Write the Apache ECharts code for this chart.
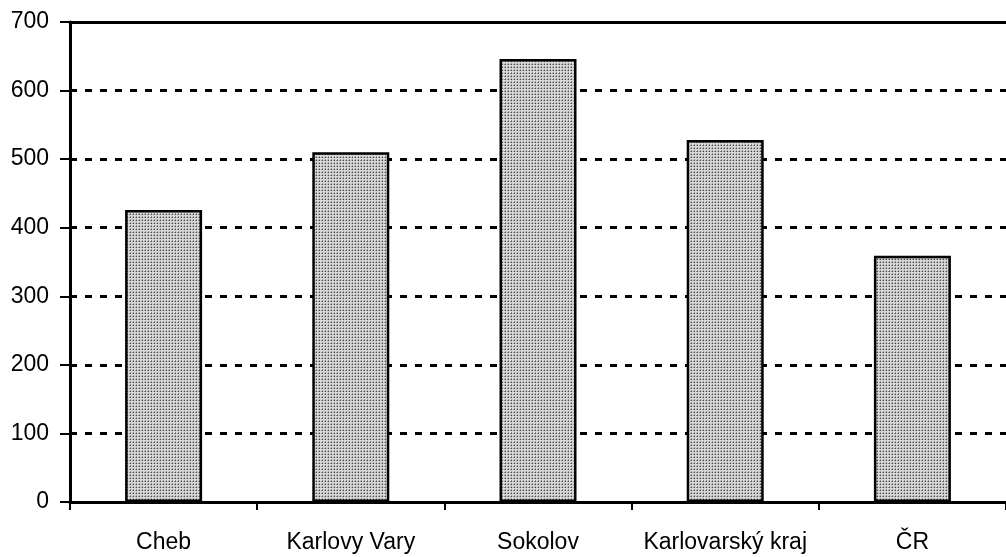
<!DOCTYPE html>
<html>
<head>
<meta charset="utf-8">
<script src="https://cdn.jsdelivr.net/npm/echarts@6/dist/echarts.min.js"></script>
<style>
html, body { margin: 0; padding: 0; background: #fff; }
#chart { width: 1006px; height: 557px; }
</style>
</head>
<body>
<div id="chart"></div>
<script>
const categories = ['Cheb', 'Karlovy Vary', 'Sokolov', 'Karlovarský kraj', 'ČR']
const values = [426, 510, 646, 528, 359]

// stipple fill like the original print
function makePattern() {
	const c = document.createElement('canvas')
	c.width = 3
	c.height = 3
	const ctx = c.getContext('2d')
	ctx.fillStyle = '#d6d6d6'
	ctx.fillRect(0, 0, 3, 3)
	ctx.fillStyle = '#4a4a4a'
	ctx.fillRect(1, 1, 1, 1)
	ctx.fillStyle = '#9a9a9a'
	ctx.fillRect(0, 1, 1, 1)
	ctx.fillRect(1, 0, 1, 1)
	return c
}

const font = '"Liberation Sans Narrow", "Liberation Sans", Arial, sans-serif'
let myChart = echarts.init(document.getElementById('chart'))
let option = {
	animation: false,
	grid: { left: 70, top: 22, width: 945, height: 480 },
	xAxis: [{
		type: 'category',
		data: categories,
		axisLine: { lineStyle: { color: '#000', width: 3 } },
		axisTick: { show: true, length: 8, lineStyle: { color: '#000', width: 2 } },
		axisLabel: { color: '#000', fontSize: 23, fontFamily: font, margin: 29, interval: 0 },
		splitLine: { show: false }
	}, {
		type: 'category',
		position: 'top',
		data: categories,
		axisLine: { show: true, lineStyle: { color: '#000', width: 3 } },
		axisTick: { show: false },
		axisLabel: { show: false }
	}],
	yAxis: {
		type: 'value',
		min: 0,
		max: 700,
		interval: 100,
		axisLine: { show: true, lineStyle: { color: '#000', width: 3 } },
		axisTick: { show: true, inside: false, length: 10, lineStyle: { color: '#000', width: 2 } },
		axisLabel: { color: '#000', fontSize: 23, fontFamily: font, margin: 21 },
		splitLine: { show: true, lineStyle: { color: '#000', width: 3, type: [7, 8] } }
	},
	series: [{
		type: 'bar',
		data: values,
		barWidth: 77,
		itemStyle: {
			color: { image: makePattern(), repeat: 'repeat' },
			borderColor: '#000',
			borderWidth: 2.5
		}
	}]
}
myChart.setOption(option)
</script>
</body>
</html>
